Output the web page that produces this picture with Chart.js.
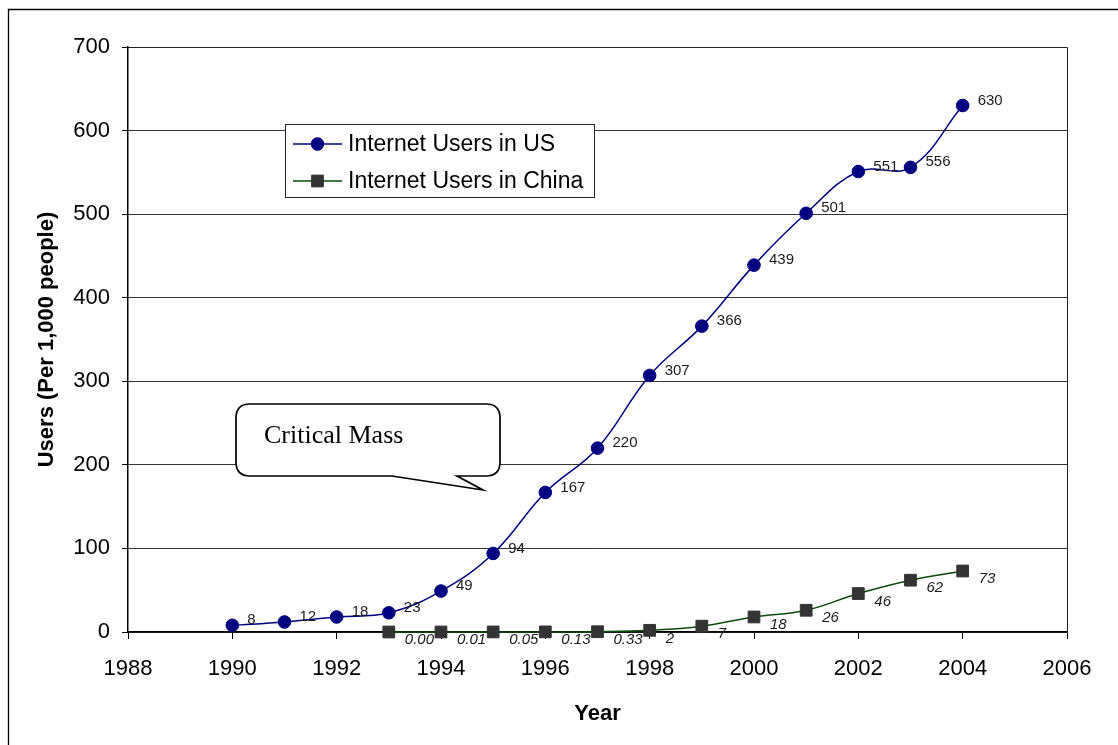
<!DOCTYPE html>
<html>
<head>
<meta charset="utf-8">
<title>Internet Users in US and China</title>
<script src="https://cdn.jsdelivr.net/npm/chart.js@4.4.1/dist/chart.umd.min.js"></script>
<style>
  html, body { margin: 0; padding: 0; background: #fff; }
  canvas { display: block; }
</style>
</head>
<body>
<canvas id="chart" width="1118" height="745"></canvas>
<script>
// Internet users per 1,000 people
const usYears = [1990, 1991, 1992, 1993, 1994, 1995, 1996, 1997, 1998, 1999, 2000, 2001, 2002, 2003, 2004];
const usUsers = [8, 12, 18, 23, 49, 94, 167, 220, 307, 366, 439, 501, 551, 556, 630];

const chinaYears = [1993, 1994, 1995, 1996, 1997, 1998, 1999, 2000, 2001, 2002, 2003, 2004];
const chinaUsers = [0.00, 0.01, 0.05, 0.13, 0.33, 2, 7, 18, 26, 46, 62, 73];

const seriesNames = ['Internet Users in US', 'Internet Users in China'];
const yearRange = [1988, 2006];
const yearStep = 2;
const userRange = [0, 700];
const userStep = 100;
const calloutText = 'Critical Mass';

const SANS = "'Liberation Sans', Arial, sans-serif";
const SERIF = "'Liberation Serif', 'Times New Roman', serif";

Chart.defaults.font.family = SANS;
Chart.defaults.color = '#000';

const toPoints = (xs, ys) => xs.map((x, i) => ({ x, y: ys[i] }));

// label text for a value: small values keep two decimals
const fmtValue = v => (v < 1 ? v.toFixed(2) : String(Math.round(v)));

// outer frame and plot area border
const framePlugin = {
  id: 'frame',
  beforeDraw(chart) {
    const { ctx } = chart;
    ctx.save();
    ctx.fillStyle = '#fff';
    ctx.fillRect(0, 0, chart.width, chart.height);
    ctx.strokeStyle = '#000';
    ctx.lineWidth = 1.3;
    ctx.beginPath();
    ctx.moveTo(chart.width + 2, 9.5);
    ctx.lineTo(8.5, 9.5);
    ctx.lineTo(8.5, chart.height + 2);
    ctx.stroke();
    ctx.restore();
  },
  beforeDatasetsDraw(chart) {
    const { ctx, chartArea: a } = chart;
    ctx.save();
    ctx.strokeStyle = '#222';
    ctx.lineWidth = 1;
    ctx.beginPath();
    ctx.moveTo(Math.round(a.left), Math.round(a.top) + 0.5);
    ctx.lineTo(Math.round(a.right) + 0.5, Math.round(a.top) + 0.5);
    ctx.lineTo(Math.round(a.right) + 0.5, a.bottom);
    ctx.stroke();
    ctx.restore();
  }
};

// value labels beside each marker
const valueLabelPlugin = {
  id: 'valueLabels',
  afterDatasetsDraw(chart) {
    const { ctx } = chart;
    ctx.save();
    ctx.fillStyle = '#1a1a1a';
    ctx.textAlign = 'left';
    ctx.textBaseline = 'middle';
    chart.data.datasets.forEach((ds, di) => {
      const meta = chart.getDatasetMeta(di);
      const o = ds.labelOffset;
      ctx.font = (ds.labelItalic ? 'italic ' : '') + '15px ' + SANS;
      meta.data.forEach((pt, i) => {
        ctx.fillText(fmtValue(ds.data[i].y), pt.x + o.dx, pt.y + o.dy);
      });
    });
    ctx.restore();
  }
};

// legend box inside the plot
const legendBoxPlugin = {
  id: 'legendBox',
  afterDatasetsDraw(chart) {
    const { ctx } = chart;
    const box = { left: 285.5, top: 124.5, right: 594.5, bottom: 197.5 };
    const rows = [144, 181];
    ctx.save();
    ctx.fillStyle = '#fff';
    ctx.fillRect(box.left, box.top, box.right - box.left, box.bottom - box.top);
    ctx.strokeStyle = '#222';
    ctx.lineWidth = 1;
    ctx.strokeRect(box.left, box.top, box.right - box.left, box.bottom - box.top);
    chart.data.datasets.forEach((ds, i) => {
      const y = rows[i];
      ctx.strokeStyle = ds.borderColor;
      ctx.lineWidth = ds.borderWidth;
      ctx.beginPath();
      ctx.moveTo(293, y);
      ctx.lineTo(342, y);
      ctx.stroke();
      ctx.fillStyle = ds.pointBackgroundColor;
      ctx.strokeStyle = ds.pointBorderColor;
      ctx.lineWidth = 1;
      Chart.helpers.drawPoint(ctx, {
        pointStyle: ds.pointStyle, radius: ds.pointRadius, borderWidth: 1, rotation: 0
      }, 317.5, y);
      ctx.fillStyle = '#000';
      ctx.font = '23px ' + SANS;
      ctx.textAlign = 'left';
      ctx.textBaseline = 'middle';
      ctx.fillText(ds.label, 348, y + 1);
    });
    ctx.restore();
  }
};

// speech-bubble annotation
const calloutPlugin = {
  id: 'callout',
  afterDatasetsDraw(chart) {
    const { ctx } = chart;
    const L = 236, T = 404, R = 500, B = 476, r = 14;
    const tailA = 392, tailB = 457, tipX = 483, tipY = 490;
    ctx.save();
    ctx.beginPath();
    ctx.moveTo(L + r, T);
    ctx.lineTo(R - r, T);
    ctx.quadraticCurveTo(R, T, R, T + r);
    ctx.lineTo(R, B - r);
    ctx.quadraticCurveTo(R, B, R - r, B);
    ctx.lineTo(tailB, B);
    ctx.lineTo(tipX, tipY);
    ctx.lineTo(tailA, B);
    ctx.lineTo(L + r, B);
    ctx.quadraticCurveTo(L, B, L, B - r);
    ctx.lineTo(L, T + r);
    ctx.quadraticCurveTo(L, T, L + r, T);
    ctx.closePath();
    ctx.fillStyle = '#fff';
    ctx.fill();
    ctx.strokeStyle = '#000';
    ctx.lineWidth = 1.7;
    ctx.lineJoin = 'miter';
    ctx.stroke();
    ctx.fillStyle = '#000';
    ctx.font = '26px ' + SERIF;
    ctx.textAlign = 'left';
    ctx.textBaseline = 'alphabetic';
    ctx.fillText(calloutText, 264, 443);
    ctx.restore();
  }
};

new Chart(document.getElementById('chart'), {
  type: 'line',
  data: {
    datasets: [
      {
        label: seriesNames[0],
        data: toPoints(usYears, usUsers),
        borderColor: '#000080',
        borderWidth: 1.5,
        pointStyle: 'circle',
        pointRadius: 6.3,
        pointBackgroundColor: '#000080',
        pointBorderColor: '#000080',
        pointBorderWidth: 1,
        tension: 0.4,
        clip: false,
        labelOffset: { dx: 15, dy: -5 },
        labelItalic: false
      },
      {
        label: seriesNames[1],
        data: toPoints(chinaYears, chinaUsers),
        borderColor: '#0a4a0a',
        borderWidth: 1.5,
        pointStyle: 'rect',
        pointRadius: 8.3,
        pointBackgroundColor: '#333333',
        pointBorderColor: '#333333',
        pointBorderWidth: 1,
        tension: 0.4,
        clip: false,
        labelOffset: { dx: 16, dy: 8 },
        labelItalic: true
      }
    ]
  },
  options: {
    responsive: false,
    animation: false,
    events: [],
    layout: { padding: { left: 0, top: 47, right: 51, bottom: 0 } },
    plugins: {
      legend: { display: false },
      tooltip: { enabled: false }
    },
    scales: {
      x: {
        type: 'linear',
        min: yearRange[0],
        max: yearRange[1],
        afterFit(scale) { scale.height = 113; },
        ticks: {
          stepSize: yearStep,
          font: { size: 22 },
          color: '#000',
          padding: 17,
          maxRotation: 0,
          callback: v => String(v)
        },
        grid: {
          drawOnChartArea: false,
          drawTicks: true,
          tickLength: 7,
          tickColor: '#000',
          tickWidth: 1
        },
        border: { display: true, color: '#000', width: 1.5 },
        title: {
          display: true,
          text: 'Year',
          font: { size: 22, weight: 'bold' },
          color: '#000',
          padding: { top: 0, bottom: 18 }
        }
      },
      y: {
        type: 'linear',
        min: userRange[0],
        max: userRange[1],
        afterFit(scale) { scale.width = 128; },
        ticks: {
          stepSize: userStep,
          font: { size: 22 },
          color: '#000',
          padding: 12,
          callback: v => String(v)
        },
        grid: {
          color: '#333',
          lineWidth: 1,
          drawTicks: true,
          tickLength: 6,
          tickColor: '#000'
        },
        border: { display: true, color: '#000', width: 1.5 },
        title: {
          display: true,
          text: 'Users (Per 1,000 people)',
          font: { size: 22, weight: 'bold' },
          color: '#000',
          padding: { top: 34, bottom: 0 }
        }
      }
    }
  },
  plugins: [framePlugin, valueLabelPlugin, legendBoxPlugin, calloutPlugin]
});
</script>
</body>
</html>
